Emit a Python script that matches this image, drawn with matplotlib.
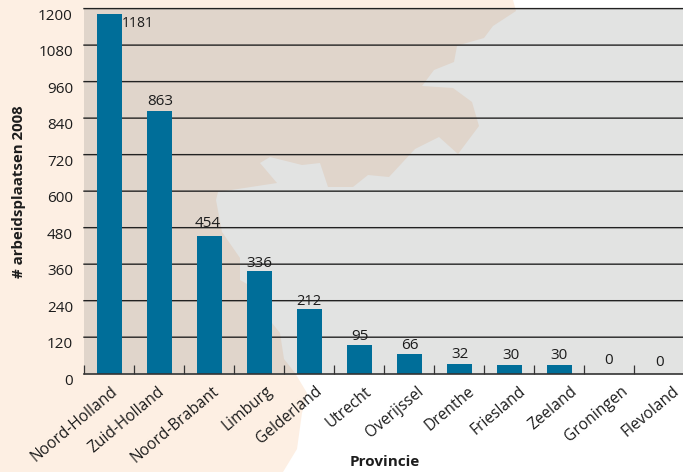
import matplotlib
matplotlib.use("Agg")
import matplotlib.pyplot as plt
from matplotlib.patches import Polygon
from matplotlib.transforms import ScaledTranslation

W, H = 683, 472
provinces = ["Noord-Holland", "Zuid-Holland", "Noord-Brabant", "Limburg", "Gelderland", "Utrecht",
             "Overijssel", "Drenthe", "Friesland", "Zeeland", "Groningen", "Flevoland"]
values = [1181, 863, 454, 336, 212, 95, 66, 32, 30, 30, 0, 0]
yticks = [0, 120, 240, 360, 480, 600, 720, 840, 960, 1080, 1200]
# pixel offsets of the value labels relative to the bar top centre
label_dx = [29, 1, -1, 0, 0, 1, 1, 1, 2, 0, 0, 1]
label_dy = [-17, 2, 5, 0, 0, 1, 1, 2, 2, 2, 6, 4]
label_size = [10, 11, 11, 11, 10.5, 11, 11, 11, 11, 11, 11, 11]
# pixel shift of the rotated province labels
tick_shift = [1, -2, 3, 6, 6, 6, 8, 8, 10, 11, 12, 13]

# decorative map outline in the backdrop (pixel coordinates, y down)
map_outline = [(0, 0), (513, 0), (516, 11), (493, 26), (484, 38), (463, 44), (457, 46), (454, 62), (434, 70),
               (422, 86), (453, 88), (472, 102), (479, 126), (458, 154), (439, 137), (415, 149), (389, 177),
               (368, 175), (353, 187), (328, 187), (320, 163), (302, 165), (270, 157), (260, 163), (277, 183),
               (218, 192), (216, 200), (222, 232), (240, 258), (240, 280), (247, 284), (272, 323), (280, 333),
               (284, 359), (295, 373), (307, 393), (302, 413), (297, 449), (283, 472), (0, 472)]

plt.rcParams["font.family"] = ["Open Sans", "DejaVu Sans"]
fig = plt.figure(figsize=(W / 100, H / 100), dpi=100, facecolor="white")
ax = fig.add_axes([84 / W, 1 - 373.7 / H, 600 / W, 365.1 / H], facecolor="#E2E3E2")

norm = [(x / W, 1 - y / H) for x, y in map_outline]
fig.patches.append(Polygon(norm, closed=True, transform=fig.transFigure, facecolor="#FDEFE3", edgecolor="none", zorder=-5))
ax.add_patch(Polygon(norm, closed=True, transform=fig.transFigure, facecolor="#E0D5CB", edgecolor="none", zorder=0))

x = list(range(len(provinces)))
ax.set_xlim(-0.5, 11.5)
ax.set_ylim(0, 1200)

for v in yticks[1:]:
    ln = ax.axhline(v, color="#222222", lw=1.0, zorder=1, clip_on=False)
    ln.set_snap(False)

ax.bar(x, values, width=0.5, color="#006E99", zorder=2)

for i, v in enumerate(values):
    ax.annotate(str(v), (i, v), xytext=(label_dx[i] * 0.72, label_dy[i] * 0.72), textcoords="offset points",
                ha="center", va="bottom", fontsize=label_size[i], color="#1c1c1c", zorder=4)

for s in ["top", "left", "right"]:
    ax.spines[s].set_visible(False)
ax.spines["bottom"].set_color("#333333")
ax.spines["bottom"].set_linewidth(1.2)
ax.spines["bottom"].set_zorder(3)

ax.set_xticks(x)
ax.set_xticklabels(provinces, rotation=40, ha="right", rotation_mode="anchor", fontsize=11.2, color="#1c1c1c")
ax.tick_params(axis="x", which="major", length=0, pad=7)
ax.set_xticks([i - 0.5 for i in range(13)], minor=True)
ax.tick_params(axis="x", which="minor", direction="in", length=6.5, width=0.9, color="#333333")
for lab, dx in zip(ax.get_xticklabels(), tick_shift):
    lab.set_transform(lab.get_transform() + ScaledTranslation(dx / 100, 0, fig.dpi_scale_trans))

ax.set_yticks(yticks)
ax.set_yticklabels([str(v) for v in yticks], fontsize=11, color="#1c1c1c", va="top")
ax.tick_params(axis="y", length=0, pad=8)

ax.set_xlabel("Provincie", fontsize=11, fontweight="bold", color="#1c1c1c")
ax.xaxis.set_label_coords(385 / W, 1 - 462 / H, transform=fig.transFigure)
ax.xaxis.label.set_va("center")
ax.set_ylabel("# arbeidsplaatsen 2008", fontsize=10.8, fontweight="bold", color="#1c1c1c")
ax.yaxis.set_label_coords(19 / W, 1 - 192 / H, transform=fig.transFigure)
ax.yaxis.label.set_va("center")

fig.savefig("out.png", dpi=100)
